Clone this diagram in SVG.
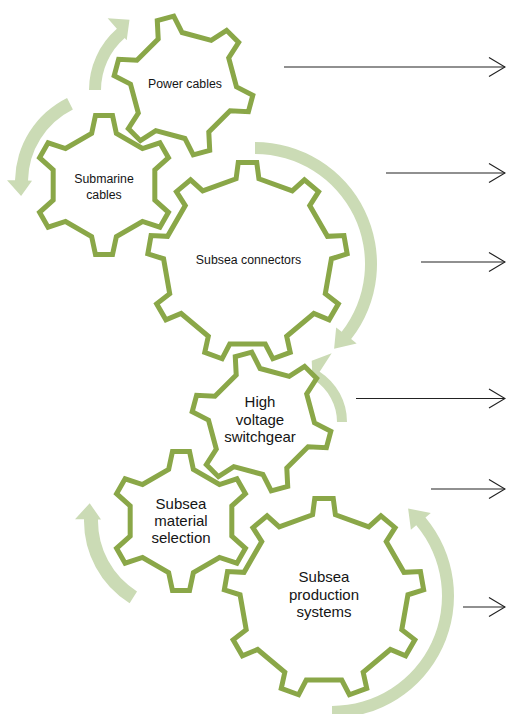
<svg xmlns="http://www.w3.org/2000/svg" width="507" height="714" viewBox="0 0 507 714">
<style>
.gear{fill:#fff;stroke:#8AA748;stroke-width:5;stroke-linejoin:miter}
.rot{fill:#CBDBB5;stroke:none}
.lbl{font-family:"Liberation Sans",Arial,sans-serif;fill:#151515;text-anchor:middle}
.s{font-size:12.3px}
.m{font-size:15px}
.conn{stroke:#222;stroke-width:1.2;fill:none;marker-end:url(#open)}
</style>
<defs>
<path id="g6" d="M-12.37,-51.54 L-8.53,-69.48 L8.53,-69.48 L12.37,-51.54 L38.45,-36.49 L55.90,-42.13 L64.44,-27.35 L50.82,-15.05 L50.82,15.05 L64.44,27.35 L55.90,42.13 L38.45,36.49 L12.37,51.54 L8.53,69.48 L-8.53,69.48 L-12.37,51.54 L-38.45,36.49 L-55.90,42.13 L-64.44,27.35 L-50.82,15.05 L-50.82,-15.05 L-64.44,-27.35 L-55.90,-42.13 L-38.45,-36.49 Z"/>
<path id="g9" d="M-11.40,-83.22 L-9.24,-99.57 L9.24,-99.57 L11.40,-83.22 L44.76,-71.08 L56.93,-82.21 L71.08,-70.34 L62.23,-56.42 L79.98,-25.68 L96.46,-26.39 L99.66,-8.19 L83.94,-3.22 L77.78,31.74 L90.85,41.79 L81.61,57.79 L66.38,51.48 L39.18,74.31 L42.74,90.41 L25.38,96.73 L17.75,82.10 L-17.75,82.10 L-25.38,96.73 L-42.74,90.41 L-39.18,74.31 L-66.38,51.48 L-81.61,57.79 L-90.85,41.79 L-77.78,31.74 L-83.94,-3.22 L-99.66,-8.19 L-96.46,-26.39 L-79.98,-25.68 L-62.23,-56.42 L-71.08,-70.34 L-56.93,-82.21 L-44.76,-71.08 Z"/>
<marker id="open" markerUnits="userSpaceOnUse" markerWidth="18" markerHeight="22" viewBox="0 0 18 22" refX="17" refY="11" orient="auto">
<path d="M1,1.5 L17,11 L1,20.5" fill="none" stroke="#222" stroke-width="1.2"/>
</marker>
</defs>
<rect width="507" height="714" fill="#fff"/>
<g id="rotation-arrows">
<path class="rot" d="M89,90 A81,81 0 0 1 116.86,28.87 L107.67,18.30 L129.5,19.85 L126.70,40.19 L124.73,37.93 A69,69 0 0 0 101,90 Z"/>
<path class="rot" d="M67.06,97.88 A94,94 0 0 0 15.01,180.36 L7.02,180.22 L21.1,195.92 L32.01,180.66 L28.01,180.59 A81,81 0 0 1 72.86,109.51 Z"/>
<path class="rot" d="M255,142 A122,122 0 0 1 351.14,339.11 L356.65,343.43 L334.11,348.84 L336.16,327.42 L341.68,331.73 A110,110 0 0 0 255,154 Z"/>
<path class="rot" d="M347,422 A60,60 0 0 0 319.68,371.68 L331.66,353.23 L311.72,360.80 L312.60,382.58 L314.23,380.06 A50,50 0 0 1 337,422 Z"/>
<path class="rot" d="M129.60,603.26 A97,97 0 0 1 84.01,519.31 L75.02,519.15 L89.71,503.25 L101.01,519.60 L98.01,519.55 A83,83 0 0 0 137.02,591.38 Z"/>
<path class="rot" d="M332,718 A122,122 0 0 0 425.45,517.58 L430.81,513.08 L408.11,508.45 L410.90,529.79 L416.26,525.29 A110,110 0 0 1 332,706 Z"/>
</g>
<g id="node-power-cables">
<use href="#g6" class="gear" transform="translate(183.5,85.5) rotate(-15)"/>
<text class="lbl s" x="185" y="87.7">Power cables</text>
</g>
<g id="node-submarine-cables">
<use href="#g6" class="gear" transform="translate(104,185)"/>
<text class="lbl s" x="104" y="182.7">Submarine</text>
<text class="lbl s" x="104" y="198.7">cables</text>
</g>
<g id="node-subsea-connectors">
<use href="#g9" class="gear" transform="translate(247.5,262)"/>
<text class="lbl s" x="248.5" y="263.5">Subsea connectors</text>
</g>
<g id="node-high-voltage-switchgear">
<use href="#g6" class="gear" transform="translate(261.5,421.5) rotate(-15)"/>
<text class="lbl m" x="260" y="407">High</text>
<text class="lbl m" x="260" y="424.5">voltage</text>
<text class="lbl m" x="260" y="442">switchgear</text>
</g>
<g id="node-subsea-material-selection">
<use href="#g6" class="gear" transform="translate(181,521)"/>
<text class="lbl m" x="181" y="508.7">Subsea</text>
<text class="lbl m" x="181" y="526">material</text>
<text class="lbl m" x="181" y="543">selection</text>
</g>
<g id="node-subsea-production-systems">
<use href="#g9" class="gear" transform="translate(324,598)"/>
<text class="lbl m" x="324" y="582">Subsea</text>
<text class="lbl m" x="324" y="599.5">production</text>
<text class="lbl m" x="324" y="616.5">systems</text>
</g>
<g id="connectors">
<line class="conn" x1="284" y1="67" x2="505" y2="67"/>
<line class="conn" x1="386" y1="173" x2="505" y2="173"/>
<line class="conn" x1="421" y1="262" x2="505" y2="262"/>
<line class="conn" x1="356" y1="398.5" x2="505" y2="398.5"/>
<line class="conn" x1="431" y1="489" x2="505" y2="489"/>
<line class="conn" x1="463" y1="607" x2="505" y2="607"/>
</g>
</svg>
